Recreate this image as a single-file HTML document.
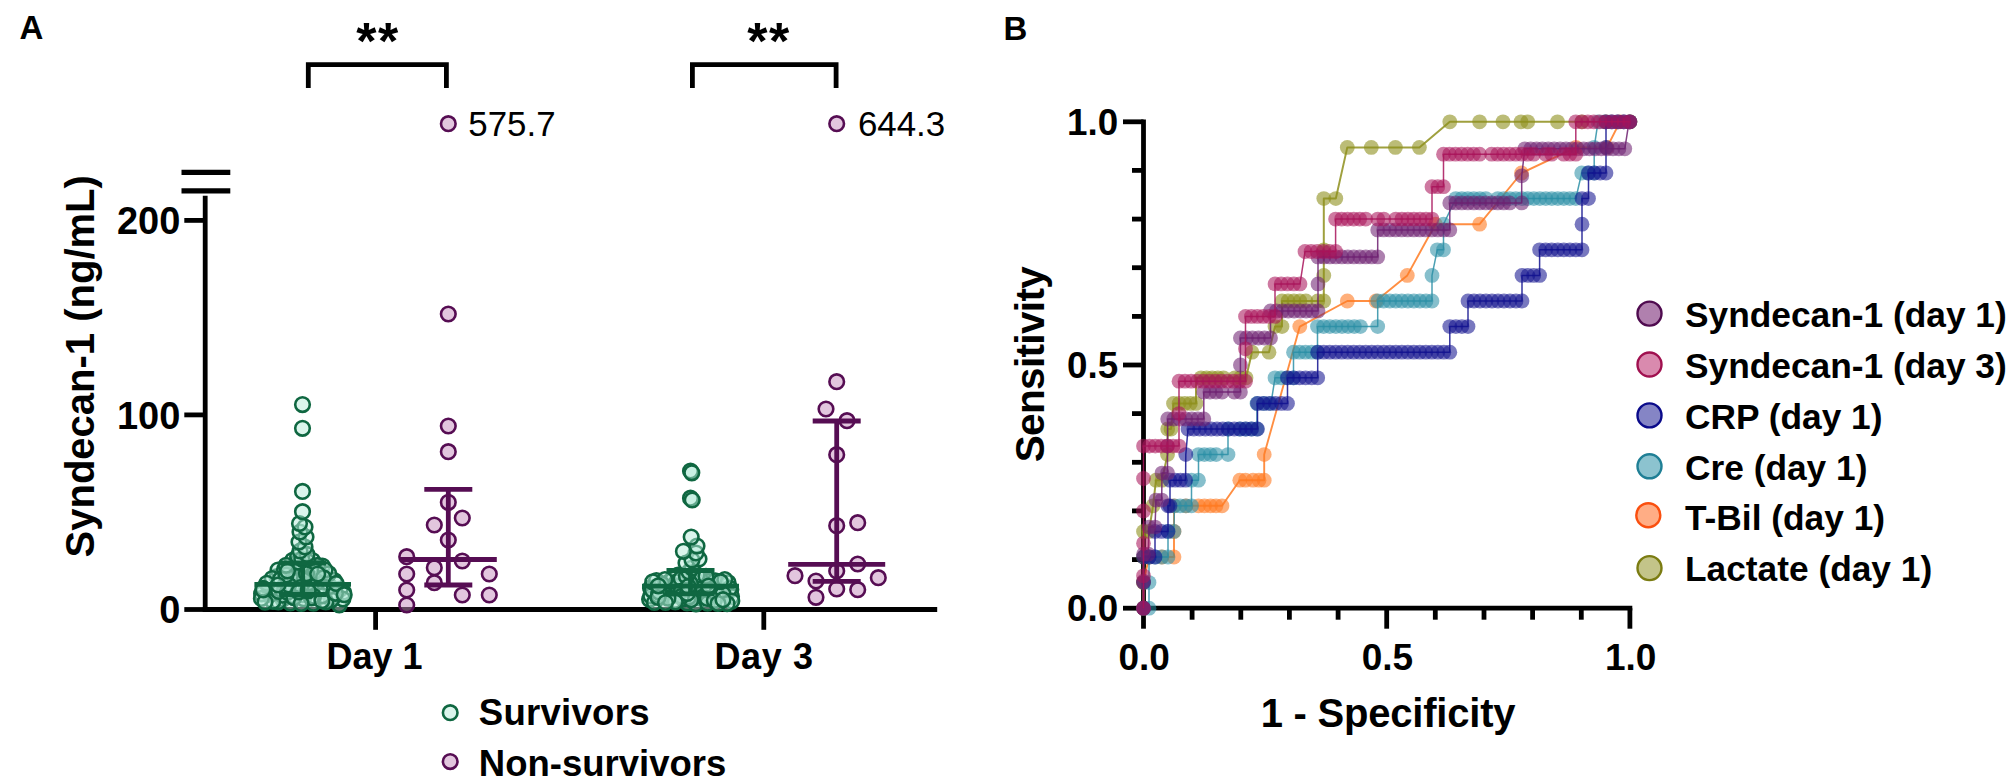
<!DOCTYPE html>
<html lang="en"><head><meta charset="utf-8"><title>Figure: Syndecan-1 and ROC</title>
<style>html,body{margin:0;padding:0;background:#fff;}body{width:2008px;height:780px;overflow:hidden;}svg{display:block;}text{font-family:"Liberation Sans",Arial,Helvetica,sans-serif;}</style></head><body>
<svg width="2008" height="780" viewBox="0 0 2008 780">
<rect width="2008" height="780" fill="#ffffff"/>
<g id="panelA">
<text x="19.5" y="39.0" font-size="33" font-weight="bold" text-anchor="start" fill="#000" >A</text>
<line x1="205.2" y1="195.7" x2="205.2" y2="611.9" stroke="#000000" stroke-width="4.8" />
<line x1="202.8" y1="609.5" x2="937.2" y2="609.5" stroke="#000000" stroke-width="4.8" />
<line x1="181.5" y1="172.3" x2="230.3" y2="172.3" stroke="#000000" stroke-width="5.2" />
<line x1="181.5" y1="190.8" x2="230.3" y2="190.8" stroke="#000000" stroke-width="5.2" />
<line x1="184.3" y1="609.5" x2="205.2" y2="609.5" stroke="#000000" stroke-width="4.8" />
<text x="180.3" y="623.1" font-size="38" font-weight="bold" text-anchor="end" fill="#000" >0</text>
<line x1="184.3" y1="414.9" x2="205.2" y2="414.9" stroke="#000000" stroke-width="4.8" />
<text x="180.3" y="428.6" font-size="38" font-weight="bold" text-anchor="end" fill="#000" >100</text>
<line x1="184.3" y1="220.4" x2="205.2" y2="220.4" stroke="#000000" stroke-width="4.8" />
<text x="180.3" y="234.0" font-size="38" font-weight="bold" text-anchor="end" fill="#000" >200</text>
<line x1="375.6" y1="609.5" x2="375.6" y2="629.8" stroke="#000000" stroke-width="4.8" />
<text x="374.6" y="668.6" font-size="36" font-weight="bold" text-anchor="middle" fill="#000" >Day 1</text>
<line x1="763.8" y1="609.5" x2="763.8" y2="629.8" stroke="#000000" stroke-width="4.8" />
<text x="764.1" y="668.6" font-size="36" font-weight="bold" text-anchor="middle" fill="#000" letter-spacing="0.65">Day 3</text>
<text transform="translate(93.8,366.3) rotate(-90)" font-size="40" font-weight="bold" text-anchor="middle" fill="#000">Syndecan-1 (ng/mL)</text>
<polyline points="308.3,88.1 308.3,64.6 446.4,64.6 446.4,88.1" fill="none" stroke="#000" stroke-width="4.8"/>
<text x="378.0" y="58.8" font-size="52" font-weight="bold" text-anchor="middle" fill="#000" letter-spacing="1.5">**</text>
<polyline points="692.4,88.1 692.4,64.6 836.1,64.6 836.1,88.1" fill="none" stroke="#000" stroke-width="4.8"/>
<text x="769.0" y="58.8" font-size="52" font-weight="bold" text-anchor="middle" fill="#000" letter-spacing="1.5">**</text>
<circle cx="282.7" cy="599.1" r="7.3" fill="#b8ecd9" fill-opacity="0.5" stroke="#0f6741" stroke-width="2.6"/>
<circle cx="322.5" cy="566.1" r="7.3" fill="#b8ecd9" fill-opacity="0.5" stroke="#0f6741" stroke-width="2.6"/>
<circle cx="261.6" cy="593.8" r="7.3" fill="#b8ecd9" fill-opacity="0.5" stroke="#0f6741" stroke-width="2.6"/>
<circle cx="326.1" cy="582.4" r="7.3" fill="#b8ecd9" fill-opacity="0.5" stroke="#0f6741" stroke-width="2.6"/>
<circle cx="343.4" cy="592.2" r="7.3" fill="#b8ecd9" fill-opacity="0.5" stroke="#0f6741" stroke-width="2.6"/>
<circle cx="276.8" cy="576.7" r="7.3" fill="#b8ecd9" fill-opacity="0.5" stroke="#0f6741" stroke-width="2.6"/>
<circle cx="296.9" cy="583.2" r="7.3" fill="#b8ecd9" fill-opacity="0.5" stroke="#0f6741" stroke-width="2.6"/>
<circle cx="339.3" cy="604.8" r="7.3" fill="#b8ecd9" fill-opacity="0.5" stroke="#0f6741" stroke-width="2.6"/>
<circle cx="290.3" cy="603.0" r="7.3" fill="#b8ecd9" fill-opacity="0.5" stroke="#0f6741" stroke-width="2.6"/>
<circle cx="316.8" cy="591.9" r="7.3" fill="#b8ecd9" fill-opacity="0.5" stroke="#0f6741" stroke-width="2.6"/>
<circle cx="278.3" cy="601.8" r="7.3" fill="#b8ecd9" fill-opacity="0.5" stroke="#0f6741" stroke-width="2.6"/>
<circle cx="325.5" cy="591.3" r="7.3" fill="#b8ecd9" fill-opacity="0.5" stroke="#0f6741" stroke-width="2.6"/>
<circle cx="270.4" cy="592.5" r="7.3" fill="#b8ecd9" fill-opacity="0.5" stroke="#0f6741" stroke-width="2.6"/>
<circle cx="307.4" cy="570.1" r="7.3" fill="#b8ecd9" fill-opacity="0.5" stroke="#0f6741" stroke-width="2.6"/>
<circle cx="312.7" cy="580.0" r="7.3" fill="#b8ecd9" fill-opacity="0.5" stroke="#0f6741" stroke-width="2.6"/>
<circle cx="340.2" cy="589.0" r="7.3" fill="#b8ecd9" fill-opacity="0.5" stroke="#0f6741" stroke-width="2.6"/>
<circle cx="312.5" cy="560.6" r="7.3" fill="#b8ecd9" fill-opacity="0.5" stroke="#0f6741" stroke-width="2.6"/>
<circle cx="278.0" cy="570.1" r="7.3" fill="#b8ecd9" fill-opacity="0.5" stroke="#0f6741" stroke-width="2.6"/>
<circle cx="270.4" cy="594.3" r="7.3" fill="#b8ecd9" fill-opacity="0.5" stroke="#0f6741" stroke-width="2.6"/>
<circle cx="296.5" cy="573.0" r="7.3" fill="#b8ecd9" fill-opacity="0.5" stroke="#0f6741" stroke-width="2.6"/>
<circle cx="307.0" cy="585.0" r="7.3" fill="#b8ecd9" fill-opacity="0.5" stroke="#0f6741" stroke-width="2.6"/>
<circle cx="342.9" cy="599.0" r="7.3" fill="#b8ecd9" fill-opacity="0.5" stroke="#0f6741" stroke-width="2.6"/>
<circle cx="333.3" cy="597.0" r="7.3" fill="#b8ecd9" fill-opacity="0.5" stroke="#0f6741" stroke-width="2.6"/>
<circle cx="291.7" cy="595.8" r="7.3" fill="#b8ecd9" fill-opacity="0.5" stroke="#0f6741" stroke-width="2.6"/>
<circle cx="274.4" cy="589.5" r="7.3" fill="#b8ecd9" fill-opacity="0.5" stroke="#0f6741" stroke-width="2.6"/>
<circle cx="302.4" cy="594.7" r="7.3" fill="#b8ecd9" fill-opacity="0.5" stroke="#0f6741" stroke-width="2.6"/>
<circle cx="311.5" cy="566.6" r="7.3" fill="#b8ecd9" fill-opacity="0.5" stroke="#0f6741" stroke-width="2.6"/>
<circle cx="331.5" cy="599.8" r="7.3" fill="#b8ecd9" fill-opacity="0.5" stroke="#0f6741" stroke-width="2.6"/>
<circle cx="282.5" cy="595.2" r="7.3" fill="#b8ecd9" fill-opacity="0.5" stroke="#0f6741" stroke-width="2.6"/>
<circle cx="313.4" cy="603.2" r="7.3" fill="#b8ecd9" fill-opacity="0.5" stroke="#0f6741" stroke-width="2.6"/>
<circle cx="291.9" cy="579.8" r="7.3" fill="#b8ecd9" fill-opacity="0.5" stroke="#0f6741" stroke-width="2.6"/>
<circle cx="272.9" cy="601.3" r="7.3" fill="#b8ecd9" fill-opacity="0.5" stroke="#0f6741" stroke-width="2.6"/>
<circle cx="292.9" cy="567.4" r="7.3" fill="#b8ecd9" fill-opacity="0.5" stroke="#0f6741" stroke-width="2.6"/>
<circle cx="317.6" cy="565.4" r="7.3" fill="#b8ecd9" fill-opacity="0.5" stroke="#0f6741" stroke-width="2.6"/>
<circle cx="292.7" cy="588.2" r="7.3" fill="#b8ecd9" fill-opacity="0.5" stroke="#0f6741" stroke-width="2.6"/>
<circle cx="284.5" cy="586.6" r="7.3" fill="#b8ecd9" fill-opacity="0.5" stroke="#0f6741" stroke-width="2.6"/>
<circle cx="307.6" cy="561.6" r="7.3" fill="#b8ecd9" fill-opacity="0.5" stroke="#0f6741" stroke-width="2.6"/>
<circle cx="292.6" cy="560.3" r="7.3" fill="#b8ecd9" fill-opacity="0.5" stroke="#0f6741" stroke-width="2.6"/>
<circle cx="318.6" cy="582.1" r="7.3" fill="#b8ecd9" fill-opacity="0.5" stroke="#0f6741" stroke-width="2.6"/>
<circle cx="301.3" cy="565.9" r="7.3" fill="#b8ecd9" fill-opacity="0.5" stroke="#0f6741" stroke-width="2.6"/>
<circle cx="311.0" cy="586.0" r="7.3" fill="#b8ecd9" fill-opacity="0.5" stroke="#0f6741" stroke-width="2.6"/>
<circle cx="278.7" cy="591.5" r="7.3" fill="#b8ecd9" fill-opacity="0.5" stroke="#0f6741" stroke-width="2.6"/>
<circle cx="303.6" cy="598.7" r="7.3" fill="#b8ecd9" fill-opacity="0.5" stroke="#0f6741" stroke-width="2.6"/>
<circle cx="303.9" cy="580.3" r="7.3" fill="#b8ecd9" fill-opacity="0.5" stroke="#0f6741" stroke-width="2.6"/>
<circle cx="296.0" cy="576.0" r="7.3" fill="#b8ecd9" fill-opacity="0.5" stroke="#0f6741" stroke-width="2.6"/>
<circle cx="297.6" cy="562.1" r="7.3" fill="#b8ecd9" fill-opacity="0.5" stroke="#0f6741" stroke-width="2.6"/>
<circle cx="284.5" cy="569.5" r="7.3" fill="#b8ecd9" fill-opacity="0.5" stroke="#0f6741" stroke-width="2.6"/>
<circle cx="261.4" cy="598.4" r="7.3" fill="#b8ecd9" fill-opacity="0.5" stroke="#0f6741" stroke-width="2.6"/>
<circle cx="329.9" cy="586.5" r="7.3" fill="#b8ecd9" fill-opacity="0.5" stroke="#0f6741" stroke-width="2.6"/>
<circle cx="325.9" cy="601.9" r="7.3" fill="#b8ecd9" fill-opacity="0.5" stroke="#0f6741" stroke-width="2.6"/>
<circle cx="272.2" cy="578.6" r="7.3" fill="#b8ecd9" fill-opacity="0.5" stroke="#0f6741" stroke-width="2.6"/>
<circle cx="322.2" cy="595.8" r="7.3" fill="#b8ecd9" fill-opacity="0.5" stroke="#0f6741" stroke-width="2.6"/>
<circle cx="320.2" cy="588.6" r="7.3" fill="#b8ecd9" fill-opacity="0.5" stroke="#0f6741" stroke-width="2.6"/>
<circle cx="334.3" cy="580.6" r="7.3" fill="#b8ecd9" fill-opacity="0.5" stroke="#0f6741" stroke-width="2.6"/>
<circle cx="265.0" cy="602.1" r="7.3" fill="#b8ecd9" fill-opacity="0.5" stroke="#0f6741" stroke-width="2.6"/>
<circle cx="280.6" cy="579.2" r="7.3" fill="#b8ecd9" fill-opacity="0.5" stroke="#0f6741" stroke-width="2.6"/>
<circle cx="315.6" cy="570.9" r="7.3" fill="#b8ecd9" fill-opacity="0.5" stroke="#0f6741" stroke-width="2.6"/>
<circle cx="301.1" cy="587.3" r="7.3" fill="#b8ecd9" fill-opacity="0.5" stroke="#0f6741" stroke-width="2.6"/>
<circle cx="306.5" cy="573.8" r="7.3" fill="#b8ecd9" fill-opacity="0.5" stroke="#0f6741" stroke-width="2.6"/>
<circle cx="328.8" cy="573.7" r="7.3" fill="#b8ecd9" fill-opacity="0.5" stroke="#0f6741" stroke-width="2.6"/>
<circle cx="313.6" cy="596.3" r="7.3" fill="#b8ecd9" fill-opacity="0.5" stroke="#0f6741" stroke-width="2.6"/>
<circle cx="311.4" cy="598.0" r="7.3" fill="#b8ecd9" fill-opacity="0.5" stroke="#0f6741" stroke-width="2.6"/>
<circle cx="297.6" cy="556.6" r="7.3" fill="#b8ecd9" fill-opacity="0.5" stroke="#0f6741" stroke-width="2.6"/>
<circle cx="301.8" cy="559.0" r="7.3" fill="#b8ecd9" fill-opacity="0.5" stroke="#0f6741" stroke-width="2.6"/>
<circle cx="321.9" cy="600.8" r="7.3" fill="#b8ecd9" fill-opacity="0.5" stroke="#0f6741" stroke-width="2.6"/>
<circle cx="287.5" cy="592.2" r="7.3" fill="#b8ecd9" fill-opacity="0.5" stroke="#0f6741" stroke-width="2.6"/>
<circle cx="293.9" cy="597.7" r="7.3" fill="#b8ecd9" fill-opacity="0.5" stroke="#0f6741" stroke-width="2.6"/>
<circle cx="288.7" cy="585.0" r="7.3" fill="#b8ecd9" fill-opacity="0.5" stroke="#0f6741" stroke-width="2.6"/>
<circle cx="325.1" cy="570.0" r="7.3" fill="#b8ecd9" fill-opacity="0.5" stroke="#0f6741" stroke-width="2.6"/>
<circle cx="323.4" cy="577.7" r="7.3" fill="#b8ecd9" fill-opacity="0.5" stroke="#0f6741" stroke-width="2.6"/>
<circle cx="266.8" cy="583.3" r="7.3" fill="#b8ecd9" fill-opacity="0.5" stroke="#0f6741" stroke-width="2.6"/>
<circle cx="307.0" cy="554.4" r="7.3" fill="#b8ecd9" fill-opacity="0.5" stroke="#0f6741" stroke-width="2.6"/>
<circle cx="335.4" cy="593.3" r="7.3" fill="#b8ecd9" fill-opacity="0.5" stroke="#0f6741" stroke-width="2.6"/>
<circle cx="286.1" cy="575.1" r="7.3" fill="#b8ecd9" fill-opacity="0.5" stroke="#0f6741" stroke-width="2.6"/>
<circle cx="263.2" cy="588.3" r="7.3" fill="#b8ecd9" fill-opacity="0.5" stroke="#0f6741" stroke-width="2.6"/>
<circle cx="286.1" cy="565.3" r="7.3" fill="#b8ecd9" fill-opacity="0.5" stroke="#0f6741" stroke-width="2.6"/>
<circle cx="301.2" cy="603.5" r="7.3" fill="#b8ecd9" fill-opacity="0.5" stroke="#0f6741" stroke-width="2.6"/>
<circle cx="278.1" cy="585.0" r="7.3" fill="#b8ecd9" fill-opacity="0.5" stroke="#0f6741" stroke-width="2.6"/>
<circle cx="317.7" cy="574.1" r="7.3" fill="#b8ecd9" fill-opacity="0.5" stroke="#0f6741" stroke-width="2.6"/>
<circle cx="287.5" cy="571.0" r="7.3" fill="#b8ecd9" fill-opacity="0.5" stroke="#0f6741" stroke-width="2.6"/>
<circle cx="262.9" cy="590.0" r="7.3" fill="#b8ecd9" fill-opacity="0.5" stroke="#0f6741" stroke-width="2.6"/>
<circle cx="298.7" cy="591.8" r="7.3" fill="#b8ecd9" fill-opacity="0.5" stroke="#0f6741" stroke-width="2.6"/>
<circle cx="336.1" cy="583.4" r="7.3" fill="#b8ecd9" fill-opacity="0.5" stroke="#0f6741" stroke-width="2.6"/>
<circle cx="308.2" cy="590.8" r="7.3" fill="#b8ecd9" fill-opacity="0.5" stroke="#0f6741" stroke-width="2.6"/>
<circle cx="344.2" cy="594.7" r="7.3" fill="#b8ecd9" fill-opacity="0.5" stroke="#0f6741" stroke-width="2.6"/>
<circle cx="300.0" cy="551.0" r="7.3" fill="#b8ecd9" fill-opacity="0.5" stroke="#0f6741" stroke-width="2.6"/>
<circle cx="305.0" cy="547.0" r="7.3" fill="#b8ecd9" fill-opacity="0.5" stroke="#0f6741" stroke-width="2.6"/>
<circle cx="299.0" cy="542.0" r="7.3" fill="#b8ecd9" fill-opacity="0.5" stroke="#0f6741" stroke-width="2.6"/>
<circle cx="306.0" cy="537.0" r="7.3" fill="#b8ecd9" fill-opacity="0.5" stroke="#0f6741" stroke-width="2.6"/>
<circle cx="300.0" cy="532.0" r="7.3" fill="#b8ecd9" fill-opacity="0.5" stroke="#0f6741" stroke-width="2.6"/>
<circle cx="305.0" cy="527.0" r="7.3" fill="#b8ecd9" fill-opacity="0.5" stroke="#0f6741" stroke-width="2.6"/>
<circle cx="299.5" cy="523.5" r="7.3" fill="#b8ecd9" fill-opacity="0.5" stroke="#0f6741" stroke-width="2.6"/>
<circle cx="302.5" cy="404.6" r="7.3" fill="#b8ecd9" fill-opacity="0.5" stroke="#0f6741" stroke-width="2.6"/>
<circle cx="302.5" cy="428.3" r="7.3" fill="#b8ecd9" fill-opacity="0.5" stroke="#0f6741" stroke-width="2.6"/>
<circle cx="302.5" cy="491.4" r="7.3" fill="#b8ecd9" fill-opacity="0.5" stroke="#0f6741" stroke-width="2.6"/>
<circle cx="302.5" cy="511.7" r="7.3" fill="#b8ecd9" fill-opacity="0.5" stroke="#0f6741" stroke-width="2.6"/>
<line x1="302.7" y1="563.0" x2="302.7" y2="594.5" stroke="#0f6741" stroke-width="4.8" />
<line x1="254.4" y1="584.3" x2="351.0" y2="584.3" stroke="#0f6741" stroke-width="4.8" />
<line x1="279.2" y1="563.0" x2="326.2" y2="563.0" stroke="#0f6741" stroke-width="4.8" />
<line x1="279.2" y1="594.5" x2="326.2" y2="594.5" stroke="#0f6741" stroke-width="4.8" />
<circle cx="715.9" cy="592.4" r="7.3" fill="#b8ecd9" fill-opacity="0.5" stroke="#0f6741" stroke-width="2.6"/>
<circle cx="699.9" cy="597.9" r="7.3" fill="#b8ecd9" fill-opacity="0.5" stroke="#0f6741" stroke-width="2.6"/>
<circle cx="701.7" cy="591.6" r="7.3" fill="#b8ecd9" fill-opacity="0.5" stroke="#0f6741" stroke-width="2.6"/>
<circle cx="687.1" cy="602.9" r="7.3" fill="#b8ecd9" fill-opacity="0.5" stroke="#0f6741" stroke-width="2.6"/>
<circle cx="693.5" cy="587.2" r="7.3" fill="#b8ecd9" fill-opacity="0.5" stroke="#0f6741" stroke-width="2.6"/>
<circle cx="667.0" cy="588.7" r="7.3" fill="#b8ecd9" fill-opacity="0.5" stroke="#0f6741" stroke-width="2.6"/>
<circle cx="678.0" cy="575.1" r="7.3" fill="#b8ecd9" fill-opacity="0.5" stroke="#0f6741" stroke-width="2.6"/>
<circle cx="705.1" cy="583.6" r="7.3" fill="#b8ecd9" fill-opacity="0.5" stroke="#0f6741" stroke-width="2.6"/>
<circle cx="669.1" cy="581.8" r="7.3" fill="#b8ecd9" fill-opacity="0.5" stroke="#0f6741" stroke-width="2.6"/>
<circle cx="695.6" cy="590.1" r="7.3" fill="#b8ecd9" fill-opacity="0.5" stroke="#0f6741" stroke-width="2.6"/>
<circle cx="693.9" cy="595.7" r="7.3" fill="#b8ecd9" fill-opacity="0.5" stroke="#0f6741" stroke-width="2.6"/>
<circle cx="674.2" cy="585.9" r="7.3" fill="#b8ecd9" fill-opacity="0.5" stroke="#0f6741" stroke-width="2.6"/>
<circle cx="650.5" cy="588.0" r="7.3" fill="#b8ecd9" fill-opacity="0.5" stroke="#0f6741" stroke-width="2.6"/>
<circle cx="713.0" cy="581.9" r="7.3" fill="#b8ecd9" fill-opacity="0.5" stroke="#0f6741" stroke-width="2.6"/>
<circle cx="674.2" cy="590.4" r="7.3" fill="#b8ecd9" fill-opacity="0.5" stroke="#0f6741" stroke-width="2.6"/>
<circle cx="717.7" cy="587.8" r="7.3" fill="#b8ecd9" fill-opacity="0.5" stroke="#0f6741" stroke-width="2.6"/>
<circle cx="708.1" cy="594.0" r="7.3" fill="#b8ecd9" fill-opacity="0.5" stroke="#0f6741" stroke-width="2.6"/>
<circle cx="724.3" cy="585.9" r="7.3" fill="#b8ecd9" fill-opacity="0.5" stroke="#0f6741" stroke-width="2.6"/>
<circle cx="689.5" cy="580.4" r="7.3" fill="#b8ecd9" fill-opacity="0.5" stroke="#0f6741" stroke-width="2.6"/>
<circle cx="673.0" cy="578.9" r="7.3" fill="#b8ecd9" fill-opacity="0.5" stroke="#0f6741" stroke-width="2.6"/>
<circle cx="722.3" cy="591.7" r="7.3" fill="#b8ecd9" fill-opacity="0.5" stroke="#0f6741" stroke-width="2.6"/>
<circle cx="707.9" cy="581.2" r="7.3" fill="#b8ecd9" fill-opacity="0.5" stroke="#0f6741" stroke-width="2.6"/>
<circle cx="664.5" cy="593.0" r="7.3" fill="#b8ecd9" fill-opacity="0.5" stroke="#0f6741" stroke-width="2.6"/>
<circle cx="684.5" cy="583.3" r="7.3" fill="#b8ecd9" fill-opacity="0.5" stroke="#0f6741" stroke-width="2.6"/>
<circle cx="715.3" cy="580.8" r="7.3" fill="#b8ecd9" fill-opacity="0.5" stroke="#0f6741" stroke-width="2.6"/>
<circle cx="699.9" cy="582.6" r="7.3" fill="#b8ecd9" fill-opacity="0.5" stroke="#0f6741" stroke-width="2.6"/>
<circle cx="703.1" cy="588.8" r="7.3" fill="#b8ecd9" fill-opacity="0.5" stroke="#0f6741" stroke-width="2.6"/>
<circle cx="696.0" cy="603.8" r="7.3" fill="#b8ecd9" fill-opacity="0.5" stroke="#0f6741" stroke-width="2.6"/>
<circle cx="679.4" cy="585.7" r="7.3" fill="#b8ecd9" fill-opacity="0.5" stroke="#0f6741" stroke-width="2.6"/>
<circle cx="703.2" cy="596.9" r="7.3" fill="#b8ecd9" fill-opacity="0.5" stroke="#0f6741" stroke-width="2.6"/>
<circle cx="649.6" cy="599.3" r="7.3" fill="#b8ecd9" fill-opacity="0.5" stroke="#0f6741" stroke-width="2.6"/>
<circle cx="708.7" cy="590.3" r="7.3" fill="#b8ecd9" fill-opacity="0.5" stroke="#0f6741" stroke-width="2.6"/>
<circle cx="730.8" cy="589.6" r="7.3" fill="#b8ecd9" fill-opacity="0.5" stroke="#0f6741" stroke-width="2.6"/>
<circle cx="728.1" cy="582.7" r="7.3" fill="#b8ecd9" fill-opacity="0.5" stroke="#0f6741" stroke-width="2.6"/>
<circle cx="656.4" cy="580.5" r="7.3" fill="#b8ecd9" fill-opacity="0.5" stroke="#0f6741" stroke-width="2.6"/>
<circle cx="683.2" cy="598.8" r="7.3" fill="#b8ecd9" fill-opacity="0.5" stroke="#0f6741" stroke-width="2.6"/>
<circle cx="699.7" cy="578.3" r="7.3" fill="#b8ecd9" fill-opacity="0.5" stroke="#0f6741" stroke-width="2.6"/>
<circle cx="661.9" cy="584.0" r="7.3" fill="#b8ecd9" fill-opacity="0.5" stroke="#0f6741" stroke-width="2.6"/>
<circle cx="731.5" cy="596.6" r="7.3" fill="#b8ecd9" fill-opacity="0.5" stroke="#0f6741" stroke-width="2.6"/>
<circle cx="707.6" cy="603.2" r="7.3" fill="#b8ecd9" fill-opacity="0.5" stroke="#0f6741" stroke-width="2.6"/>
<circle cx="688.5" cy="597.3" r="7.3" fill="#b8ecd9" fill-opacity="0.5" stroke="#0f6741" stroke-width="2.6"/>
<circle cx="697.1" cy="574.9" r="7.3" fill="#b8ecd9" fill-opacity="0.5" stroke="#0f6741" stroke-width="2.6"/>
<circle cx="729.7" cy="588.3" r="7.3" fill="#b8ecd9" fill-opacity="0.5" stroke="#0f6741" stroke-width="2.6"/>
<circle cx="676.9" cy="581.8" r="7.3" fill="#b8ecd9" fill-opacity="0.5" stroke="#0f6741" stroke-width="2.6"/>
<circle cx="672.9" cy="595.4" r="7.3" fill="#b8ecd9" fill-opacity="0.5" stroke="#0f6741" stroke-width="2.6"/>
<circle cx="691.1" cy="599.7" r="7.3" fill="#b8ecd9" fill-opacity="0.5" stroke="#0f6741" stroke-width="2.6"/>
<circle cx="650.8" cy="596.0" r="7.3" fill="#b8ecd9" fill-opacity="0.5" stroke="#0f6741" stroke-width="2.6"/>
<circle cx="690.5" cy="583.7" r="7.3" fill="#b8ecd9" fill-opacity="0.5" stroke="#0f6741" stroke-width="2.6"/>
<circle cx="707.2" cy="598.5" r="7.3" fill="#b8ecd9" fill-opacity="0.5" stroke="#0f6741" stroke-width="2.6"/>
<circle cx="681.1" cy="578.5" r="7.3" fill="#b8ecd9" fill-opacity="0.5" stroke="#0f6741" stroke-width="2.6"/>
<circle cx="681.4" cy="591.1" r="7.3" fill="#b8ecd9" fill-opacity="0.5" stroke="#0f6741" stroke-width="2.6"/>
<circle cx="666.1" cy="595.3" r="7.3" fill="#b8ecd9" fill-opacity="0.5" stroke="#0f6741" stroke-width="2.6"/>
<circle cx="681.4" cy="596.3" r="7.3" fill="#b8ecd9" fill-opacity="0.5" stroke="#0f6741" stroke-width="2.6"/>
<circle cx="724.8" cy="579.5" r="7.3" fill="#b8ecd9" fill-opacity="0.5" stroke="#0f6741" stroke-width="2.6"/>
<circle cx="654.4" cy="602.5" r="7.3" fill="#b8ecd9" fill-opacity="0.5" stroke="#0f6741" stroke-width="2.6"/>
<circle cx="716.3" cy="593.8" r="7.3" fill="#b8ecd9" fill-opacity="0.5" stroke="#0f6741" stroke-width="2.6"/>
<circle cx="706.0" cy="576.3" r="7.3" fill="#b8ecd9" fill-opacity="0.5" stroke="#0f6741" stroke-width="2.6"/>
<circle cx="664.9" cy="579.5" r="7.3" fill="#b8ecd9" fill-opacity="0.5" stroke="#0f6741" stroke-width="2.6"/>
<circle cx="674.9" cy="600.4" r="7.3" fill="#b8ecd9" fill-opacity="0.5" stroke="#0f6741" stroke-width="2.6"/>
<circle cx="722.9" cy="593.8" r="7.3" fill="#b8ecd9" fill-opacity="0.5" stroke="#0f6741" stroke-width="2.6"/>
<circle cx="675.3" cy="602.0" r="7.3" fill="#b8ecd9" fill-opacity="0.5" stroke="#0f6741" stroke-width="2.6"/>
<circle cx="731.8" cy="601.1" r="7.3" fill="#b8ecd9" fill-opacity="0.5" stroke="#0f6741" stroke-width="2.6"/>
<circle cx="686.4" cy="576.3" r="7.3" fill="#b8ecd9" fill-opacity="0.5" stroke="#0f6741" stroke-width="2.6"/>
<circle cx="652.2" cy="590.1" r="7.3" fill="#b8ecd9" fill-opacity="0.5" stroke="#0f6741" stroke-width="2.6"/>
<circle cx="687.3" cy="593.5" r="7.3" fill="#b8ecd9" fill-opacity="0.5" stroke="#0f6741" stroke-width="2.6"/>
<circle cx="720.4" cy="581.7" r="7.3" fill="#b8ecd9" fill-opacity="0.5" stroke="#0f6741" stroke-width="2.6"/>
<circle cx="688.2" cy="586.6" r="7.3" fill="#b8ecd9" fill-opacity="0.5" stroke="#0f6741" stroke-width="2.6"/>
<circle cx="667.9" cy="598.2" r="7.3" fill="#b8ecd9" fill-opacity="0.5" stroke="#0f6741" stroke-width="2.6"/>
<circle cx="727.1" cy="603.6" r="7.3" fill="#b8ecd9" fill-opacity="0.5" stroke="#0f6741" stroke-width="2.6"/>
<circle cx="658.3" cy="595.5" r="7.3" fill="#b8ecd9" fill-opacity="0.5" stroke="#0f6741" stroke-width="2.6"/>
<circle cx="652.8" cy="581.8" r="7.3" fill="#b8ecd9" fill-opacity="0.5" stroke="#0f6741" stroke-width="2.6"/>
<circle cx="658.9" cy="592.1" r="7.3" fill="#b8ecd9" fill-opacity="0.5" stroke="#0f6741" stroke-width="2.6"/>
<circle cx="658.0" cy="597.5" r="7.3" fill="#b8ecd9" fill-opacity="0.5" stroke="#0f6741" stroke-width="2.6"/>
<circle cx="665.5" cy="602.5" r="7.3" fill="#b8ecd9" fill-opacity="0.5" stroke="#0f6741" stroke-width="2.6"/>
<circle cx="714.3" cy="600.6" r="7.3" fill="#b8ecd9" fill-opacity="0.5" stroke="#0f6741" stroke-width="2.6"/>
<circle cx="718.0" cy="603.5" r="7.3" fill="#b8ecd9" fill-opacity="0.5" stroke="#0f6741" stroke-width="2.6"/>
<circle cx="658.3" cy="585.8" r="7.3" fill="#b8ecd9" fill-opacity="0.5" stroke="#0f6741" stroke-width="2.6"/>
<circle cx="708.5" cy="586.1" r="7.3" fill="#b8ecd9" fill-opacity="0.5" stroke="#0f6741" stroke-width="2.6"/>
<circle cx="723.0" cy="599.7" r="7.3" fill="#b8ecd9" fill-opacity="0.5" stroke="#0f6741" stroke-width="2.6"/>
<circle cx="689.0" cy="572.0" r="7.3" fill="#b8ecd9" fill-opacity="0.5" stroke="#0f6741" stroke-width="2.6"/>
<circle cx="692.0" cy="568.0" r="7.3" fill="#b8ecd9" fill-opacity="0.5" stroke="#0f6741" stroke-width="2.6"/>
<circle cx="686.0" cy="563.0" r="7.3" fill="#b8ecd9" fill-opacity="0.5" stroke="#0f6741" stroke-width="2.6"/>
<circle cx="699.0" cy="559.0" r="7.3" fill="#b8ecd9" fill-opacity="0.5" stroke="#0f6741" stroke-width="2.6"/>
<circle cx="692.0" cy="560.0" r="7.3" fill="#b8ecd9" fill-opacity="0.5" stroke="#0f6741" stroke-width="2.6"/>
<circle cx="696.0" cy="553.0" r="7.3" fill="#b8ecd9" fill-opacity="0.5" stroke="#0f6741" stroke-width="2.6"/>
<circle cx="683.4" cy="551.3" r="7.3" fill="#b8ecd9" fill-opacity="0.5" stroke="#0f6741" stroke-width="2.6"/>
<circle cx="697.0" cy="546.0" r="7.3" fill="#b8ecd9" fill-opacity="0.5" stroke="#0f6741" stroke-width="2.6"/>
<circle cx="691.2" cy="537.1" r="7.3" fill="#b8ecd9" fill-opacity="0.5" stroke="#0f6741" stroke-width="2.6"/>
<circle cx="690.5" cy="471.0" r="7.3" fill="#b8ecd9" fill-opacity="0.5" stroke="#0f6741" stroke-width="2.6"/>
<circle cx="691.8" cy="472.8" r="7.3" fill="#b8ecd9" fill-opacity="0.5" stroke="#0f6741" stroke-width="2.6"/>
<circle cx="690.5" cy="498.2" r="7.3" fill="#b8ecd9" fill-opacity="0.5" stroke="#0f6741" stroke-width="2.6"/>
<circle cx="692.2" cy="500.0" r="7.3" fill="#b8ecd9" fill-opacity="0.5" stroke="#0f6741" stroke-width="2.6"/>
<line x1="690.5" y1="570.5" x2="690.5" y2="593.8" stroke="#0f6741" stroke-width="4.8" />
<line x1="642.0" y1="586.2" x2="739.0" y2="586.2" stroke="#0f6741" stroke-width="4.8" />
<line x1="666.5" y1="570.5" x2="714.5" y2="570.5" stroke="#0f6741" stroke-width="4.8" />
<line x1="666.5" y1="593.8" x2="714.5" y2="593.8" stroke="#0f6741" stroke-width="4.8" />
<circle cx="448.3" cy="123.7" r="7.3" fill="#c58dbd" fill-opacity="0.5" stroke="#560d53" stroke-width="2.6"/>
<circle cx="448.3" cy="314.0" r="7.3" fill="#c58dbd" fill-opacity="0.5" stroke="#560d53" stroke-width="2.6"/>
<circle cx="448.3" cy="426.0" r="7.3" fill="#c58dbd" fill-opacity="0.5" stroke="#560d53" stroke-width="2.6"/>
<circle cx="448.3" cy="451.7" r="7.3" fill="#c58dbd" fill-opacity="0.5" stroke="#560d53" stroke-width="2.6"/>
<circle cx="448.3" cy="502.3" r="7.3" fill="#c58dbd" fill-opacity="0.5" stroke="#560d53" stroke-width="2.6"/>
<circle cx="462.3" cy="518.0" r="7.3" fill="#c58dbd" fill-opacity="0.5" stroke="#560d53" stroke-width="2.6"/>
<circle cx="434.3" cy="525.0" r="7.3" fill="#c58dbd" fill-opacity="0.5" stroke="#560d53" stroke-width="2.6"/>
<circle cx="448.3" cy="540.0" r="7.3" fill="#c58dbd" fill-opacity="0.5" stroke="#560d53" stroke-width="2.6"/>
<circle cx="406.7" cy="556.7" r="7.3" fill="#c58dbd" fill-opacity="0.5" stroke="#560d53" stroke-width="2.6"/>
<circle cx="462.3" cy="561.0" r="7.3" fill="#c58dbd" fill-opacity="0.5" stroke="#560d53" stroke-width="2.6"/>
<circle cx="434.3" cy="567.7" r="7.3" fill="#c58dbd" fill-opacity="0.5" stroke="#560d53" stroke-width="2.6"/>
<circle cx="406.7" cy="574.0" r="7.3" fill="#c58dbd" fill-opacity="0.5" stroke="#560d53" stroke-width="2.6"/>
<circle cx="489.3" cy="574.0" r="7.3" fill="#c58dbd" fill-opacity="0.5" stroke="#560d53" stroke-width="2.6"/>
<circle cx="434.3" cy="582.7" r="7.3" fill="#c58dbd" fill-opacity="0.5" stroke="#560d53" stroke-width="2.6"/>
<circle cx="406.7" cy="590.0" r="7.3" fill="#c58dbd" fill-opacity="0.5" stroke="#560d53" stroke-width="2.6"/>
<circle cx="462.3" cy="595.0" r="7.3" fill="#c58dbd" fill-opacity="0.5" stroke="#560d53" stroke-width="2.6"/>
<circle cx="489.3" cy="595.0" r="7.3" fill="#c58dbd" fill-opacity="0.5" stroke="#560d53" stroke-width="2.6"/>
<circle cx="406.7" cy="605.0" r="7.3" fill="#c58dbd" fill-opacity="0.5" stroke="#560d53" stroke-width="2.6"/>
<line x1="448.3" y1="489.3" x2="448.3" y2="585.0" stroke="#560d53" stroke-width="4.8" />
<line x1="399.8" y1="559.5" x2="496.8" y2="559.5" stroke="#560d53" stroke-width="4.8" />
<line x1="424.3" y1="489.3" x2="472.3" y2="489.3" stroke="#560d53" stroke-width="4.8" />
<line x1="424.3" y1="585.0" x2="472.3" y2="585.0" stroke="#560d53" stroke-width="4.8" />
<circle cx="836.7" cy="123.7" r="7.3" fill="#c58dbd" fill-opacity="0.5" stroke="#560d53" stroke-width="2.6"/>
<circle cx="836.7" cy="381.7" r="7.3" fill="#c58dbd" fill-opacity="0.5" stroke="#560d53" stroke-width="2.6"/>
<circle cx="826.0" cy="409.0" r="7.3" fill="#c58dbd" fill-opacity="0.5" stroke="#560d53" stroke-width="2.6"/>
<circle cx="847.0" cy="420.7" r="7.3" fill="#c58dbd" fill-opacity="0.5" stroke="#560d53" stroke-width="2.6"/>
<circle cx="836.7" cy="454.7" r="7.3" fill="#c58dbd" fill-opacity="0.5" stroke="#560d53" stroke-width="2.6"/>
<circle cx="836.7" cy="525.7" r="7.3" fill="#c58dbd" fill-opacity="0.5" stroke="#560d53" stroke-width="2.6"/>
<circle cx="857.7" cy="522.7" r="7.3" fill="#c58dbd" fill-opacity="0.5" stroke="#560d53" stroke-width="2.6"/>
<circle cx="857.7" cy="564.0" r="7.3" fill="#c58dbd" fill-opacity="0.5" stroke="#560d53" stroke-width="2.6"/>
<circle cx="836.7" cy="571.0" r="7.3" fill="#c58dbd" fill-opacity="0.5" stroke="#560d53" stroke-width="2.6"/>
<circle cx="795.0" cy="575.7" r="7.3" fill="#c58dbd" fill-opacity="0.5" stroke="#560d53" stroke-width="2.6"/>
<circle cx="878.3" cy="577.7" r="7.3" fill="#c58dbd" fill-opacity="0.5" stroke="#560d53" stroke-width="2.6"/>
<circle cx="816.0" cy="581.0" r="7.3" fill="#c58dbd" fill-opacity="0.5" stroke="#560d53" stroke-width="2.6"/>
<circle cx="836.7" cy="589.0" r="7.3" fill="#c58dbd" fill-opacity="0.5" stroke="#560d53" stroke-width="2.6"/>
<circle cx="857.7" cy="589.7" r="7.3" fill="#c58dbd" fill-opacity="0.5" stroke="#560d53" stroke-width="2.6"/>
<circle cx="816.0" cy="597.3" r="7.3" fill="#c58dbd" fill-opacity="0.5" stroke="#560d53" stroke-width="2.6"/>
<line x1="836.7" y1="421.0" x2="836.7" y2="581.3" stroke="#560d53" stroke-width="4.8" />
<line x1="788.2" y1="564.3" x2="885.2" y2="564.3" stroke="#560d53" stroke-width="4.8" />
<line x1="812.7" y1="421.0" x2="860.7" y2="421.0" stroke="#560d53" stroke-width="4.8" />
<line x1="812.7" y1="581.3" x2="860.7" y2="581.3" stroke="#560d53" stroke-width="4.8" />
<text x="468.3" y="136.3" font-size="34.9" font-weight="normal" text-anchor="start" fill="#000" >575.7</text>
<text x="857.9" y="136.3" font-size="34.9" font-weight="normal" text-anchor="start" fill="#000" >644.3</text>
<circle cx="450.2" cy="712.7" r="7.3" fill="#b8ecd9" fill-opacity="0.5" stroke="#0f6741" stroke-width="2.6"/>
<circle cx="450.2" cy="761.6" r="7.3" fill="#c58dbd" fill-opacity="0.5" stroke="#560d53" stroke-width="2.6"/>
<text x="478.8" y="724.6" font-size="36.6" font-weight="bold" text-anchor="start" fill="#000" letter-spacing="0.25">Survivors</text>
<text x="478.8" y="775.6" font-size="36.5" font-weight="bold" text-anchor="start" fill="#000" >Non-survivors</text>
</g>
<g id="panelB">
<text x="1003.5" y="39.5" font-size="33" font-weight="bold" text-anchor="start" fill="#000" >B</text>
<line x1="1143.5" y1="119.4" x2="1143.5" y2="610.6" stroke="#000000" stroke-width="4.8" />
<line x1="1141.1" y1="608.2" x2="1632.3" y2="608.2" stroke="#000000" stroke-width="4.8" />
<line x1="1123.0" y1="608.2" x2="1143.5" y2="608.2" stroke="#000000" stroke-width="4.8" />
<line x1="1143.5" y1="608.2" x2="1143.5" y2="628.7" stroke="#000000" stroke-width="4.8" />
<line x1="1132.0" y1="559.6" x2="1143.5" y2="559.6" stroke="#000000" stroke-width="4.8" />
<line x1="1192.1" y1="608.2" x2="1192.1" y2="619.7" stroke="#000000" stroke-width="4.8" />
<line x1="1132.0" y1="510.9" x2="1143.5" y2="510.9" stroke="#000000" stroke-width="4.8" />
<line x1="1240.8" y1="608.2" x2="1240.8" y2="619.7" stroke="#000000" stroke-width="4.8" />
<line x1="1132.0" y1="462.3" x2="1143.5" y2="462.3" stroke="#000000" stroke-width="4.8" />
<line x1="1289.4" y1="608.2" x2="1289.4" y2="619.7" stroke="#000000" stroke-width="4.8" />
<line x1="1132.0" y1="413.6" x2="1143.5" y2="413.6" stroke="#000000" stroke-width="4.8" />
<line x1="1338.1" y1="608.2" x2="1338.1" y2="619.7" stroke="#000000" stroke-width="4.8" />
<line x1="1123.0" y1="365.0" x2="1143.5" y2="365.0" stroke="#000000" stroke-width="4.8" />
<line x1="1386.7" y1="608.2" x2="1386.7" y2="628.7" stroke="#000000" stroke-width="4.8" />
<line x1="1132.0" y1="316.4" x2="1143.5" y2="316.4" stroke="#000000" stroke-width="4.8" />
<line x1="1435.3" y1="608.2" x2="1435.3" y2="619.7" stroke="#000000" stroke-width="4.8" />
<line x1="1132.0" y1="267.7" x2="1143.5" y2="267.7" stroke="#000000" stroke-width="4.8" />
<line x1="1484.0" y1="608.2" x2="1484.0" y2="619.7" stroke="#000000" stroke-width="4.8" />
<line x1="1132.0" y1="219.1" x2="1143.5" y2="219.1" stroke="#000000" stroke-width="4.8" />
<line x1="1532.6" y1="608.2" x2="1532.6" y2="619.7" stroke="#000000" stroke-width="4.8" />
<line x1="1132.0" y1="170.4" x2="1143.5" y2="170.4" stroke="#000000" stroke-width="4.8" />
<line x1="1581.3" y1="608.2" x2="1581.3" y2="619.7" stroke="#000000" stroke-width="4.8" />
<line x1="1123.0" y1="121.8" x2="1143.5" y2="121.8" stroke="#000000" stroke-width="4.8" />
<line x1="1629.9" y1="608.2" x2="1629.9" y2="628.7" stroke="#000000" stroke-width="4.8" />
<text x="1118.2" y="621.3" font-size="36.8" font-weight="bold" text-anchor="end" fill="#000" >0.0</text>
<text x="1144.2" y="670.0" font-size="37" font-weight="bold" text-anchor="middle" fill="#000" >0.0</text>
<text x="1118.2" y="378.1" font-size="36.8" font-weight="bold" text-anchor="end" fill="#000" >0.5</text>
<text x="1387.4" y="670.0" font-size="37" font-weight="bold" text-anchor="middle" fill="#000" >0.5</text>
<text x="1118.2" y="134.9" font-size="36.8" font-weight="bold" text-anchor="end" fill="#000" >1.0</text>
<text x="1630.6" y="670.0" font-size="37" font-weight="bold" text-anchor="middle" fill="#000" >1.0</text>
<text transform="translate(1043.6,364.6) rotate(-90)" font-size="40.5" letter-spacing="-0.65" font-weight="bold" text-anchor="middle" fill="#000">Sensitivity</text>
<text x="1388.0" y="727.0" font-size="40" font-weight="bold" text-anchor="middle" fill="#000" letter-spacing="-0.22">1 - Specificity</text>
<polyline fill="none" stroke="#8e8f1c" stroke-opacity="0.85" stroke-width="2.0" stroke-linejoin="round" points="1143.5,608.2 1143.5,531.4 1149.0,531.4 1153.0,505.8 1156.0,480.2 1162.0,480.2 1167.5,454.6 1167.7,429.0 1171.0,429.0 1173.5,403.4 1196.0,403.4 1196.0,377.8 1246.0,377.8 1252.0,352.2 1269.0,352.2 1275.0,326.6 1282.0,326.6 1282.0,301.0 1323.8,301.0 1323.8,198.6 1335.8,198.6 1347.3,147.4 1419.4,147.4 1449.8,121.8 1629.9,121.8"/>
<g fill="#8e8f1c" fill-opacity="0.6">
<circle cx="1143.5" cy="608.2" r="7.4"/>
<circle cx="1143.5" cy="582.6" r="7.4"/>
<circle cx="1143.5" cy="557.0" r="7.4"/>
<circle cx="1143.5" cy="531.4" r="7.4"/>
<circle cx="1149.0" cy="531.4" r="7.4"/>
<circle cx="1153.0" cy="505.8" r="7.4"/>
<circle cx="1156.0" cy="480.2" r="7.4"/>
<circle cx="1162.0" cy="480.2" r="7.4"/>
<circle cx="1167.5" cy="454.6" r="7.4"/>
<circle cx="1167.7" cy="429.0" r="7.4"/>
<circle cx="1171.0" cy="429.0" r="7.4"/>
<circle cx="1173.5" cy="403.4" r="7.4"/>
<circle cx="1179.1" cy="403.4" r="7.4"/>
<circle cx="1184.8" cy="403.4" r="7.4"/>
<circle cx="1190.4" cy="403.4" r="7.4"/>
<circle cx="1196.0" cy="403.4" r="7.4"/>
<circle cx="1201.0" cy="377.8" r="7.4"/>
<circle cx="1206.6" cy="377.8" r="7.4"/>
<circle cx="1212.2" cy="377.8" r="7.4"/>
<circle cx="1217.9" cy="377.8" r="7.4"/>
<circle cx="1223.5" cy="377.8" r="7.4"/>
<circle cx="1234.8" cy="377.8" r="7.4"/>
<circle cx="1240.4" cy="377.8" r="7.4"/>
<circle cx="1246.0" cy="377.8" r="7.4"/>
<circle cx="1252.0" cy="352.2" r="7.4"/>
<circle cx="1269.0" cy="352.2" r="7.4"/>
<circle cx="1275.0" cy="326.6" r="7.4"/>
<circle cx="1282.0" cy="326.6" r="7.4"/>
<circle cx="1282.0" cy="301.0" r="7.4"/>
<circle cx="1288.0" cy="301.0" r="7.4"/>
<circle cx="1293.9" cy="301.0" r="7.4"/>
<circle cx="1299.9" cy="301.0" r="7.4"/>
<circle cx="1305.9" cy="301.0" r="7.4"/>
<circle cx="1317.8" cy="301.0" r="7.4"/>
<circle cx="1323.8" cy="301.0" r="7.4"/>
<circle cx="1323.8" cy="275.4" r="7.4"/>
<circle cx="1323.8" cy="249.8" r="7.4"/>
<circle cx="1323.8" cy="198.6" r="7.4"/>
<circle cx="1335.8" cy="198.6" r="7.4"/>
<circle cx="1347.3" cy="147.4" r="7.4"/>
<circle cx="1371.3" cy="147.4" r="7.4"/>
<circle cx="1395.4" cy="147.4" r="7.4"/>
<circle cx="1419.4" cy="147.4" r="7.4"/>
<circle cx="1449.8" cy="121.8" r="7.4"/>
<circle cx="1479.6" cy="121.8" r="7.4"/>
<circle cx="1503.0" cy="121.8" r="7.4"/>
<circle cx="1521.0" cy="121.8" r="7.4"/>
<circle cx="1527.7" cy="121.8" r="7.4"/>
<circle cx="1557.5" cy="121.8" r="7.4"/>
<circle cx="1582.0" cy="121.8" r="7.4"/>
<circle cx="1606.0" cy="121.8" r="7.4"/>
<circle cx="1629.9" cy="121.8" r="7.4"/>
</g>
<polyline fill="none" stroke="#ff7a21" stroke-opacity="0.85" stroke-width="1.9" stroke-linejoin="round" points="1143.5,608.2 1143.5,582.6 1149.0,557.0 1174.0,557.0 1174.0,505.8 1222.0,505.8 1239.8,480.2 1264.2,480.2 1264.2,454.6 1299.8,326.6 1347.3,301.0 1376.0,301.0 1407.3,275.4 1435.4,224.2 1479.6,224.2 1521.5,173.0 1576.0,147.4 1607.0,147.4 1620.0,121.8 1629.9,121.8"/>
<g fill="#ff7a21" fill-opacity="0.6">
<circle cx="1143.5" cy="608.2" r="7.4"/>
<circle cx="1143.5" cy="582.6" r="7.4"/>
<circle cx="1149.0" cy="557.0" r="7.4"/>
<circle cx="1162.0" cy="557.0" r="7.4"/>
<circle cx="1174.0" cy="557.0" r="7.4"/>
<circle cx="1174.0" cy="531.4" r="7.4"/>
<circle cx="1174.0" cy="505.8" r="7.4"/>
<circle cx="1186.0" cy="505.8" r="7.4"/>
<circle cx="1198.5" cy="505.8" r="7.4"/>
<circle cx="1204.5" cy="505.8" r="7.4"/>
<circle cx="1210.5" cy="505.8" r="7.4"/>
<circle cx="1216.0" cy="505.8" r="7.4"/>
<circle cx="1222.0" cy="505.8" r="7.4"/>
<circle cx="1239.8" cy="480.2" r="7.4"/>
<circle cx="1245.5" cy="480.2" r="7.4"/>
<circle cx="1253.0" cy="480.2" r="7.4"/>
<circle cx="1259.0" cy="480.2" r="7.4"/>
<circle cx="1264.2" cy="480.2" r="7.4"/>
<circle cx="1264.2" cy="454.6" r="7.4"/>
<circle cx="1299.8" cy="326.6" r="7.4"/>
<circle cx="1347.3" cy="301.0" r="7.4"/>
<circle cx="1376.0" cy="301.0" r="7.4"/>
<circle cx="1407.3" cy="275.4" r="7.4"/>
<circle cx="1435.4" cy="224.2" r="7.4"/>
<circle cx="1479.6" cy="224.2" r="7.4"/>
<circle cx="1521.5" cy="173.0" r="7.4"/>
<circle cx="1576.0" cy="147.4" r="7.4"/>
<circle cx="1607.0" cy="147.4" r="7.4"/>
<circle cx="1620.0" cy="121.8" r="7.4"/>
<circle cx="1629.9" cy="121.8" r="7.4"/>
</g>
<polyline fill="none" stroke="#2b8fa6" stroke-opacity="0.85" stroke-width="1.5" stroke-linejoin="round" points="1143.5,608.2 1149.0,608.2 1149.0,557.0 1168.0,557.0 1168.0,531.4 1174.0,531.4 1174.4,505.8 1191.5,505.8 1191.5,480.2 1198.5,480.2 1198.5,454.6 1228.0,454.6 1228.0,429.0 1257.0,429.0 1257.0,403.4 1271.0,403.4 1275.0,377.8 1293.5,377.8 1293.5,352.2 1317.5,352.2 1317.5,326.6 1377.7,326.6 1377.7,301.0 1432.0,301.0 1432.0,275.4 1437.3,249.8 1443.5,249.8 1443.5,224.2 1455.8,198.6 1575.8,198.6 1581.7,173.0 1594.2,173.0 1594.2,147.4 1598.0,121.8 1629.9,121.8"/>
<g fill="#2b8fa6" fill-opacity="0.57">
<circle cx="1143.5" cy="608.2" r="7.4"/>
<circle cx="1149.0" cy="608.2" r="7.4"/>
<circle cx="1149.0" cy="582.6" r="7.4"/>
<circle cx="1377.7" cy="326.6" r="7.4"/>
<circle cx="1432.0" cy="275.4" r="7.4"/>
<circle cx="1443.5" cy="224.2" r="7.4"/>
<circle cx="1594.2" cy="147.4" r="7.4"/>
<circle cx="1149.0" cy="557.0" r="7.4"/>
<circle cx="1155.3" cy="557.0" r="7.4"/>
<circle cx="1161.7" cy="557.0" r="7.4"/>
<circle cx="1168.0" cy="557.0" r="7.4"/>
<circle cx="1168.0" cy="531.4" r="7.4"/>
<circle cx="1174.0" cy="531.4" r="7.4"/>
<circle cx="1174.4" cy="505.8" r="7.4"/>
<circle cx="1180.1" cy="505.8" r="7.4"/>
<circle cx="1185.8" cy="505.8" r="7.4"/>
<circle cx="1191.5" cy="505.8" r="7.4"/>
<circle cx="1191.5" cy="480.2" r="7.4"/>
<circle cx="1198.5" cy="480.2" r="7.4"/>
<circle cx="1198.5" cy="454.6" r="7.4"/>
<circle cx="1204.4" cy="454.6" r="7.4"/>
<circle cx="1210.3" cy="454.6" r="7.4"/>
<circle cx="1216.2" cy="454.6" r="7.4"/>
<circle cx="1228.0" cy="454.6" r="7.4"/>
<circle cx="1228.0" cy="429.0" r="7.4"/>
<circle cx="1239.6" cy="429.0" r="7.4"/>
<circle cx="1245.4" cy="429.0" r="7.4"/>
<circle cx="1251.2" cy="429.0" r="7.4"/>
<circle cx="1257.0" cy="429.0" r="7.4"/>
<circle cx="1257.0" cy="403.4" r="7.4"/>
<circle cx="1264.0" cy="403.4" r="7.4"/>
<circle cx="1271.0" cy="403.4" r="7.4"/>
<circle cx="1275.0" cy="377.8" r="7.4"/>
<circle cx="1281.2" cy="377.8" r="7.4"/>
<circle cx="1287.3" cy="377.8" r="7.4"/>
<circle cx="1293.5" cy="377.8" r="7.4"/>
<circle cx="1293.5" cy="352.2" r="7.4"/>
<circle cx="1299.5" cy="352.2" r="7.4"/>
<circle cx="1305.5" cy="352.2" r="7.4"/>
<circle cx="1311.5" cy="352.2" r="7.4"/>
<circle cx="1317.5" cy="352.2" r="7.4"/>
<circle cx="1317.5" cy="326.6" r="7.4"/>
<circle cx="1323.6" cy="326.6" r="7.4"/>
<circle cx="1329.8" cy="326.6" r="7.4"/>
<circle cx="1335.9" cy="326.6" r="7.4"/>
<circle cx="1342.0" cy="326.6" r="7.4"/>
<circle cx="1348.1" cy="326.6" r="7.4"/>
<circle cx="1354.3" cy="326.6" r="7.4"/>
<circle cx="1360.4" cy="326.6" r="7.4"/>
<circle cx="1377.7" cy="301.0" r="7.4"/>
<circle cx="1383.7" cy="301.0" r="7.4"/>
<circle cx="1389.8" cy="301.0" r="7.4"/>
<circle cx="1395.8" cy="301.0" r="7.4"/>
<circle cx="1401.8" cy="301.0" r="7.4"/>
<circle cx="1407.9" cy="301.0" r="7.4"/>
<circle cx="1413.9" cy="301.0" r="7.4"/>
<circle cx="1419.9" cy="301.0" r="7.4"/>
<circle cx="1426.0" cy="301.0" r="7.4"/>
<circle cx="1432.0" cy="301.0" r="7.4"/>
<circle cx="1437.3" cy="249.8" r="7.4"/>
<circle cx="1443.5" cy="249.8" r="7.4"/>
<circle cx="1455.8" cy="198.6" r="7.4"/>
<circle cx="1461.8" cy="198.6" r="7.4"/>
<circle cx="1467.8" cy="198.6" r="7.4"/>
<circle cx="1473.8" cy="198.6" r="7.4"/>
<circle cx="1479.8" cy="198.6" r="7.4"/>
<circle cx="1485.8" cy="198.6" r="7.4"/>
<circle cx="1497.8" cy="198.6" r="7.4"/>
<circle cx="1503.8" cy="198.6" r="7.4"/>
<circle cx="1509.8" cy="198.6" r="7.4"/>
<circle cx="1515.8" cy="198.6" r="7.4"/>
<circle cx="1521.8" cy="198.6" r="7.4"/>
<circle cx="1527.8" cy="198.6" r="7.4"/>
<circle cx="1533.8" cy="198.6" r="7.4"/>
<circle cx="1539.8" cy="198.6" r="7.4"/>
<circle cx="1545.8" cy="198.6" r="7.4"/>
<circle cx="1551.8" cy="198.6" r="7.4"/>
<circle cx="1557.8" cy="198.6" r="7.4"/>
<circle cx="1563.8" cy="198.6" r="7.4"/>
<circle cx="1569.8" cy="198.6" r="7.4"/>
<circle cx="1575.8" cy="198.6" r="7.4"/>
<circle cx="1581.7" cy="173.0" r="7.4"/>
<circle cx="1588.0" cy="173.0" r="7.4"/>
<circle cx="1594.2" cy="173.0" r="7.4"/>
<circle cx="1598.0" cy="121.8" r="7.4"/>
<circle cx="1604.4" cy="121.8" r="7.4"/>
<circle cx="1610.8" cy="121.8" r="7.4"/>
<circle cx="1617.1" cy="121.8" r="7.4"/>
<circle cx="1623.5" cy="121.8" r="7.4"/>
<circle cx="1629.9" cy="121.8" r="7.4"/>
</g>
<polyline fill="none" stroke="#12128f" stroke-opacity="0.85" stroke-width="1.5" stroke-linejoin="round" points="1143.5,608.2 1143.5,557.0 1143.5,557.0 1155.0,557.0 1155.0,531.4 1168.0,531.4 1168.0,505.8 1170.0,505.8 1170.0,480.2 1185.6,480.2 1185.8,454.6 1185.8,454.6 1188.0,429.0 1257.5,429.0 1257.5,403.4 1287.5,403.4 1287.5,377.8 1317.7,377.8 1317.7,352.2 1449.8,352.2 1449.8,326.6 1468.0,326.6 1468.0,301.0 1522.0,301.0 1522.0,275.4 1539.6,275.4 1539.6,249.8 1582.0,249.8 1582.0,224.2 1582.0,224.2 1582.0,198.6 1588.5,198.6 1588.5,173.0 1606.0,173.0 1606.0,147.4 1606.0,147.4 1606.0,121.8 1629.9,121.8"/>
<g fill="#12128f" fill-opacity="0.57">
<circle cx="1143.5" cy="608.2" r="7.4"/>
<circle cx="1143.5" cy="582.6" r="7.4"/>
<circle cx="1143.5" cy="557.0" r="7.4"/>
<circle cx="1149.2" cy="557.0" r="7.4"/>
<circle cx="1155.0" cy="557.0" r="7.4"/>
<circle cx="1155.0" cy="531.4" r="7.4"/>
<circle cx="1161.5" cy="531.4" r="7.4"/>
<circle cx="1168.0" cy="531.4" r="7.4"/>
<circle cx="1168.0" cy="505.8" r="7.4"/>
<circle cx="1170.0" cy="505.8" r="7.4"/>
<circle cx="1170.0" cy="480.2" r="7.4"/>
<circle cx="1175.2" cy="480.2" r="7.4"/>
<circle cx="1180.4" cy="480.2" r="7.4"/>
<circle cx="1185.6" cy="480.2" r="7.4"/>
<circle cx="1185.8" cy="454.6" r="7.4"/>
<circle cx="1188.0" cy="429.0" r="7.4"/>
<circle cx="1193.8" cy="429.0" r="7.4"/>
<circle cx="1199.6" cy="429.0" r="7.4"/>
<circle cx="1205.4" cy="429.0" r="7.4"/>
<circle cx="1211.2" cy="429.0" r="7.4"/>
<circle cx="1217.0" cy="429.0" r="7.4"/>
<circle cx="1222.8" cy="429.0" r="7.4"/>
<circle cx="1228.5" cy="429.0" r="7.4"/>
<circle cx="1234.3" cy="429.0" r="7.4"/>
<circle cx="1240.1" cy="429.0" r="7.4"/>
<circle cx="1245.9" cy="429.0" r="7.4"/>
<circle cx="1251.7" cy="429.0" r="7.4"/>
<circle cx="1257.5" cy="429.0" r="7.4"/>
<circle cx="1257.5" cy="403.4" r="7.4"/>
<circle cx="1263.5" cy="403.4" r="7.4"/>
<circle cx="1269.5" cy="403.4" r="7.4"/>
<circle cx="1275.5" cy="403.4" r="7.4"/>
<circle cx="1281.5" cy="403.4" r="7.4"/>
<circle cx="1287.5" cy="403.4" r="7.4"/>
<circle cx="1287.5" cy="377.8" r="7.4"/>
<circle cx="1293.5" cy="377.8" r="7.4"/>
<circle cx="1299.6" cy="377.8" r="7.4"/>
<circle cx="1305.6" cy="377.8" r="7.4"/>
<circle cx="1311.7" cy="377.8" r="7.4"/>
<circle cx="1317.7" cy="377.8" r="7.4"/>
<circle cx="1317.7" cy="352.2" r="7.4"/>
<circle cx="1323.7" cy="352.2" r="7.4"/>
<circle cx="1329.7" cy="352.2" r="7.4"/>
<circle cx="1335.7" cy="352.2" r="7.4"/>
<circle cx="1341.7" cy="352.2" r="7.4"/>
<circle cx="1347.7" cy="352.2" r="7.4"/>
<circle cx="1353.7" cy="352.2" r="7.4"/>
<circle cx="1359.7" cy="352.2" r="7.4"/>
<circle cx="1365.7" cy="352.2" r="7.4"/>
<circle cx="1371.7" cy="352.2" r="7.4"/>
<circle cx="1377.7" cy="352.2" r="7.4"/>
<circle cx="1383.8" cy="352.2" r="7.4"/>
<circle cx="1389.8" cy="352.2" r="7.4"/>
<circle cx="1395.8" cy="352.2" r="7.4"/>
<circle cx="1401.8" cy="352.2" r="7.4"/>
<circle cx="1407.8" cy="352.2" r="7.4"/>
<circle cx="1413.8" cy="352.2" r="7.4"/>
<circle cx="1419.8" cy="352.2" r="7.4"/>
<circle cx="1425.8" cy="352.2" r="7.4"/>
<circle cx="1431.8" cy="352.2" r="7.4"/>
<circle cx="1437.8" cy="352.2" r="7.4"/>
<circle cx="1443.8" cy="352.2" r="7.4"/>
<circle cx="1449.8" cy="352.2" r="7.4"/>
<circle cx="1449.8" cy="326.6" r="7.4"/>
<circle cx="1455.9" cy="326.6" r="7.4"/>
<circle cx="1461.9" cy="326.6" r="7.4"/>
<circle cx="1468.0" cy="326.6" r="7.4"/>
<circle cx="1468.0" cy="301.0" r="7.4"/>
<circle cx="1474.0" cy="301.0" r="7.4"/>
<circle cx="1480.0" cy="301.0" r="7.4"/>
<circle cx="1486.0" cy="301.0" r="7.4"/>
<circle cx="1492.0" cy="301.0" r="7.4"/>
<circle cx="1498.0" cy="301.0" r="7.4"/>
<circle cx="1504.0" cy="301.0" r="7.4"/>
<circle cx="1510.0" cy="301.0" r="7.4"/>
<circle cx="1516.0" cy="301.0" r="7.4"/>
<circle cx="1522.0" cy="301.0" r="7.4"/>
<circle cx="1522.0" cy="275.4" r="7.4"/>
<circle cx="1527.9" cy="275.4" r="7.4"/>
<circle cx="1533.7" cy="275.4" r="7.4"/>
<circle cx="1539.6" cy="275.4" r="7.4"/>
<circle cx="1539.6" cy="249.8" r="7.4"/>
<circle cx="1545.7" cy="249.8" r="7.4"/>
<circle cx="1551.7" cy="249.8" r="7.4"/>
<circle cx="1557.8" cy="249.8" r="7.4"/>
<circle cx="1563.8" cy="249.8" r="7.4"/>
<circle cx="1569.9" cy="249.8" r="7.4"/>
<circle cx="1575.9" cy="249.8" r="7.4"/>
<circle cx="1582.0" cy="249.8" r="7.4"/>
<circle cx="1582.0" cy="224.2" r="7.4"/>
<circle cx="1582.0" cy="198.6" r="7.4"/>
<circle cx="1588.5" cy="198.6" r="7.4"/>
<circle cx="1588.5" cy="173.0" r="7.4"/>
<circle cx="1594.3" cy="173.0" r="7.4"/>
<circle cx="1600.2" cy="173.0" r="7.4"/>
<circle cx="1606.0" cy="173.0" r="7.4"/>
<circle cx="1606.0" cy="147.4" r="7.4"/>
<circle cx="1606.0" cy="121.8" r="7.4"/>
<circle cx="1612.0" cy="121.8" r="7.4"/>
<circle cx="1618.0" cy="121.8" r="7.4"/>
<circle cx="1623.9" cy="121.8" r="7.4"/>
<circle cx="1629.9" cy="121.8" r="7.4"/>
</g>
<polyline fill="none" stroke="#6d1f70" stroke-opacity="0.85" stroke-width="1.5" stroke-linejoin="round" points="1143.5,608.2 1143.5,581.2 1143.5,581.2 1143.5,554.2 1148.3,554.2 1149.0,527.1 1155.0,527.1 1156.0,500.1 1161.7,500.1 1162.0,473.1 1167.5,473.1 1167.5,446.1 1167.5,446.1 1167.7,419.0 1203.8,419.0 1203.8,392.0 1240.4,392.0 1240.4,365.0 1240.4,365.0 1240.4,338.0 1270.5,338.0 1270.5,311.0 1318.0,311.0 1318.0,283.9 1318.0,283.9 1318.0,256.9 1377.7,256.9 1377.7,229.9 1449.8,229.9 1449.8,202.9 1521.7,202.9 1521.7,175.8 1521.7,175.8 1524.8,148.8 1624.8,148.8 1629.0,121.8 1629.9,121.8"/>
<g fill="#6d1f70" fill-opacity="0.57">
<circle cx="1143.5" cy="608.2" r="7.4"/>
<circle cx="1143.5" cy="581.2" r="7.4"/>
<circle cx="1143.5" cy="554.2" r="7.4"/>
<circle cx="1148.3" cy="554.2" r="7.4"/>
<circle cx="1149.0" cy="527.1" r="7.4"/>
<circle cx="1155.0" cy="527.1" r="7.4"/>
<circle cx="1156.0" cy="500.1" r="7.4"/>
<circle cx="1161.7" cy="500.1" r="7.4"/>
<circle cx="1162.0" cy="473.1" r="7.4"/>
<circle cx="1167.5" cy="473.1" r="7.4"/>
<circle cx="1167.5" cy="446.1" r="7.4"/>
<circle cx="1167.7" cy="419.0" r="7.4"/>
<circle cx="1173.7" cy="419.0" r="7.4"/>
<circle cx="1179.7" cy="419.0" r="7.4"/>
<circle cx="1185.8" cy="419.0" r="7.4"/>
<circle cx="1191.8" cy="419.0" r="7.4"/>
<circle cx="1197.8" cy="419.0" r="7.4"/>
<circle cx="1203.8" cy="419.0" r="7.4"/>
<circle cx="1203.8" cy="392.0" r="7.4"/>
<circle cx="1209.9" cy="392.0" r="7.4"/>
<circle cx="1216.0" cy="392.0" r="7.4"/>
<circle cx="1222.1" cy="392.0" r="7.4"/>
<circle cx="1234.3" cy="392.0" r="7.4"/>
<circle cx="1240.4" cy="392.0" r="7.4"/>
<circle cx="1240.4" cy="365.0" r="7.4"/>
<circle cx="1240.4" cy="338.0" r="7.4"/>
<circle cx="1246.4" cy="338.0" r="7.4"/>
<circle cx="1252.4" cy="338.0" r="7.4"/>
<circle cx="1258.5" cy="338.0" r="7.4"/>
<circle cx="1264.5" cy="338.0" r="7.4"/>
<circle cx="1270.5" cy="338.0" r="7.4"/>
<circle cx="1270.5" cy="311.0" r="7.4"/>
<circle cx="1276.4" cy="311.0" r="7.4"/>
<circle cx="1282.4" cy="311.0" r="7.4"/>
<circle cx="1288.3" cy="311.0" r="7.4"/>
<circle cx="1294.2" cy="311.0" r="7.4"/>
<circle cx="1300.2" cy="311.0" r="7.4"/>
<circle cx="1306.1" cy="311.0" r="7.4"/>
<circle cx="1312.1" cy="311.0" r="7.4"/>
<circle cx="1318.0" cy="311.0" r="7.4"/>
<circle cx="1318.0" cy="283.9" r="7.4"/>
<circle cx="1318.0" cy="256.9" r="7.4"/>
<circle cx="1324.0" cy="256.9" r="7.4"/>
<circle cx="1329.9" cy="256.9" r="7.4"/>
<circle cx="1335.9" cy="256.9" r="7.4"/>
<circle cx="1341.9" cy="256.9" r="7.4"/>
<circle cx="1347.8" cy="256.9" r="7.4"/>
<circle cx="1353.8" cy="256.9" r="7.4"/>
<circle cx="1359.8" cy="256.9" r="7.4"/>
<circle cx="1365.8" cy="256.9" r="7.4"/>
<circle cx="1371.7" cy="256.9" r="7.4"/>
<circle cx="1377.7" cy="256.9" r="7.4"/>
<circle cx="1377.7" cy="229.9" r="7.4"/>
<circle cx="1383.7" cy="229.9" r="7.4"/>
<circle cx="1389.7" cy="229.9" r="7.4"/>
<circle cx="1395.7" cy="229.9" r="7.4"/>
<circle cx="1401.7" cy="229.9" r="7.4"/>
<circle cx="1407.7" cy="229.9" r="7.4"/>
<circle cx="1413.8" cy="229.9" r="7.4"/>
<circle cx="1419.8" cy="229.9" r="7.4"/>
<circle cx="1425.8" cy="229.9" r="7.4"/>
<circle cx="1431.8" cy="229.9" r="7.4"/>
<circle cx="1437.8" cy="229.9" r="7.4"/>
<circle cx="1443.8" cy="229.9" r="7.4"/>
<circle cx="1449.8" cy="229.9" r="7.4"/>
<circle cx="1449.8" cy="202.9" r="7.4"/>
<circle cx="1455.8" cy="202.9" r="7.4"/>
<circle cx="1461.8" cy="202.9" r="7.4"/>
<circle cx="1467.8" cy="202.9" r="7.4"/>
<circle cx="1473.8" cy="202.9" r="7.4"/>
<circle cx="1479.8" cy="202.9" r="7.4"/>
<circle cx="1485.8" cy="202.9" r="7.4"/>
<circle cx="1491.7" cy="202.9" r="7.4"/>
<circle cx="1497.7" cy="202.9" r="7.4"/>
<circle cx="1503.7" cy="202.9" r="7.4"/>
<circle cx="1509.7" cy="202.9" r="7.4"/>
<circle cx="1521.7" cy="202.9" r="7.4"/>
<circle cx="1521.7" cy="175.8" r="7.4"/>
<circle cx="1524.8" cy="148.8" r="7.4"/>
<circle cx="1530.7" cy="148.8" r="7.4"/>
<circle cx="1536.6" cy="148.8" r="7.4"/>
<circle cx="1542.4" cy="148.8" r="7.4"/>
<circle cx="1548.3" cy="148.8" r="7.4"/>
<circle cx="1554.2" cy="148.8" r="7.4"/>
<circle cx="1560.1" cy="148.8" r="7.4"/>
<circle cx="1566.0" cy="148.8" r="7.4"/>
<circle cx="1571.9" cy="148.8" r="7.4"/>
<circle cx="1577.7" cy="148.8" r="7.4"/>
<circle cx="1583.6" cy="148.8" r="7.4"/>
<circle cx="1589.5" cy="148.8" r="7.4"/>
<circle cx="1595.4" cy="148.8" r="7.4"/>
<circle cx="1601.3" cy="148.8" r="7.4"/>
<circle cx="1607.2" cy="148.8" r="7.4"/>
<circle cx="1613.0" cy="148.8" r="7.4"/>
<circle cx="1618.9" cy="148.8" r="7.4"/>
<circle cx="1624.8" cy="148.8" r="7.4"/>
<circle cx="1629.0" cy="121.8" r="7.4"/>
</g>
<polyline fill="none" stroke="#a8135a" stroke-opacity="0.85" stroke-width="1.5" stroke-linejoin="round" points="1143.5,608.2 1143.5,446.1 1179.0,446.1 1179.0,413.6 1179.0,413.6 1179.0,381.2 1245.5,381.2 1245.5,348.8 1245.5,348.8 1245.5,316.4 1275.0,316.4 1275.0,283.9 1300.0,283.9 1305.0,251.5 1335.6,251.5 1335.6,219.1 1432.0,219.1 1432.0,186.7 1443.5,186.7 1443.5,154.2 1575.8,154.2 1575.8,121.8 1629.9,121.8"/>
<g fill="#a8135a" fill-opacity="0.57">
<circle cx="1143.5" cy="608.2" r="7.4"/>
<circle cx="1143.5" cy="575.8" r="7.4"/>
<circle cx="1143.5" cy="543.3" r="7.4"/>
<circle cx="1143.5" cy="510.9" r="7.4"/>
<circle cx="1143.5" cy="478.5" r="7.4"/>
<circle cx="1143.5" cy="446.1" r="7.4"/>
<circle cx="1149.4" cy="446.1" r="7.4"/>
<circle cx="1155.3" cy="446.1" r="7.4"/>
<circle cx="1161.2" cy="446.1" r="7.4"/>
<circle cx="1167.2" cy="446.1" r="7.4"/>
<circle cx="1173.1" cy="446.1" r="7.4"/>
<circle cx="1179.0" cy="446.1" r="7.4"/>
<circle cx="1179.0" cy="413.6" r="7.4"/>
<circle cx="1179.0" cy="381.2" r="7.4"/>
<circle cx="1185.0" cy="381.2" r="7.4"/>
<circle cx="1191.1" cy="381.2" r="7.4"/>
<circle cx="1197.1" cy="381.2" r="7.4"/>
<circle cx="1203.2" cy="381.2" r="7.4"/>
<circle cx="1209.2" cy="381.2" r="7.4"/>
<circle cx="1215.3" cy="381.2" r="7.4"/>
<circle cx="1221.3" cy="381.2" r="7.4"/>
<circle cx="1227.4" cy="381.2" r="7.4"/>
<circle cx="1233.4" cy="381.2" r="7.4"/>
<circle cx="1239.5" cy="381.2" r="7.4"/>
<circle cx="1245.5" cy="381.2" r="7.4"/>
<circle cx="1245.5" cy="348.8" r="7.4"/>
<circle cx="1245.5" cy="316.4" r="7.4"/>
<circle cx="1251.4" cy="316.4" r="7.4"/>
<circle cx="1257.3" cy="316.4" r="7.4"/>
<circle cx="1263.2" cy="316.4" r="7.4"/>
<circle cx="1269.1" cy="316.4" r="7.4"/>
<circle cx="1275.0" cy="316.4" r="7.4"/>
<circle cx="1275.0" cy="283.9" r="7.4"/>
<circle cx="1281.2" cy="283.9" r="7.4"/>
<circle cx="1287.5" cy="283.9" r="7.4"/>
<circle cx="1293.8" cy="283.9" r="7.4"/>
<circle cx="1300.0" cy="283.9" r="7.4"/>
<circle cx="1305.0" cy="251.5" r="7.4"/>
<circle cx="1311.1" cy="251.5" r="7.4"/>
<circle cx="1317.2" cy="251.5" r="7.4"/>
<circle cx="1323.4" cy="251.5" r="7.4"/>
<circle cx="1329.5" cy="251.5" r="7.4"/>
<circle cx="1335.6" cy="251.5" r="7.4"/>
<circle cx="1335.6" cy="219.1" r="7.4"/>
<circle cx="1341.6" cy="219.1" r="7.4"/>
<circle cx="1347.6" cy="219.1" r="7.4"/>
<circle cx="1353.7" cy="219.1" r="7.4"/>
<circle cx="1359.7" cy="219.1" r="7.4"/>
<circle cx="1365.7" cy="219.1" r="7.4"/>
<circle cx="1377.8" cy="219.1" r="7.4"/>
<circle cx="1383.8" cy="219.1" r="7.4"/>
<circle cx="1395.8" cy="219.1" r="7.4"/>
<circle cx="1401.9" cy="219.1" r="7.4"/>
<circle cx="1407.9" cy="219.1" r="7.4"/>
<circle cx="1413.9" cy="219.1" r="7.4"/>
<circle cx="1420.0" cy="219.1" r="7.4"/>
<circle cx="1426.0" cy="219.1" r="7.4"/>
<circle cx="1432.0" cy="219.1" r="7.4"/>
<circle cx="1432.0" cy="186.7" r="7.4"/>
<circle cx="1437.8" cy="186.7" r="7.4"/>
<circle cx="1443.5" cy="186.7" r="7.4"/>
<circle cx="1443.5" cy="154.2" r="7.4"/>
<circle cx="1449.5" cy="154.2" r="7.4"/>
<circle cx="1455.5" cy="154.2" r="7.4"/>
<circle cx="1461.5" cy="154.2" r="7.4"/>
<circle cx="1467.6" cy="154.2" r="7.4"/>
<circle cx="1473.6" cy="154.2" r="7.4"/>
<circle cx="1479.6" cy="154.2" r="7.4"/>
<circle cx="1491.6" cy="154.2" r="7.4"/>
<circle cx="1497.6" cy="154.2" r="7.4"/>
<circle cx="1503.6" cy="154.2" r="7.4"/>
<circle cx="1509.7" cy="154.2" r="7.4"/>
<circle cx="1515.7" cy="154.2" r="7.4"/>
<circle cx="1521.7" cy="154.2" r="7.4"/>
<circle cx="1527.7" cy="154.2" r="7.4"/>
<circle cx="1533.7" cy="154.2" r="7.4"/>
<circle cx="1545.7" cy="154.2" r="7.4"/>
<circle cx="1551.7" cy="154.2" r="7.4"/>
<circle cx="1563.8" cy="154.2" r="7.4"/>
<circle cx="1569.8" cy="154.2" r="7.4"/>
<circle cx="1575.8" cy="154.2" r="7.4"/>
<circle cx="1575.8" cy="121.8" r="7.4"/>
<circle cx="1581.8" cy="121.8" r="7.4"/>
<circle cx="1587.8" cy="121.8" r="7.4"/>
<circle cx="1593.8" cy="121.8" r="7.4"/>
<circle cx="1599.8" cy="121.8" r="7.4"/>
<circle cx="1605.9" cy="121.8" r="7.4"/>
<circle cx="1611.9" cy="121.8" r="7.4"/>
<circle cx="1617.9" cy="121.8" r="7.4"/>
<circle cx="1623.9" cy="121.8" r="7.4"/>
<circle cx="1629.9" cy="121.8" r="7.4"/>
</g>
<circle cx="1649.5" cy="313.6" r="12" fill="#b080ae" stroke="#4f0b4f" stroke-width="2.4"/>
<text x="1685.0" y="326.8" font-size="35.3" font-weight="bold" text-anchor="start" fill="#000" >Syndecan-1 (day 1)</text>
<circle cx="1649.5" cy="364.5" r="12" fill="#d98aae" stroke="#a0104f" stroke-width="2.4"/>
<text x="1685.0" y="377.7" font-size="35.3" font-weight="bold" text-anchor="start" fill="#000" >Syndecan-1 (day 3)</text>
<circle cx="1649.5" cy="415.4" r="12" fill="#8585c5" stroke="#0a0a8a" stroke-width="2.4"/>
<text x="1685.0" y="428.6" font-size="35.3" font-weight="bold" text-anchor="start" fill="#000" >CRP (day 1)</text>
<circle cx="1649.5" cy="466.3" r="12" fill="#8cc3cf" stroke="#1f7f95" stroke-width="2.4"/>
<text x="1685.0" y="479.5" font-size="35.3" font-weight="bold" text-anchor="start" fill="#000" >Cre (day 1)</text>
<circle cx="1648.3" cy="515.2" r="12" fill="#ffad85" stroke="#fa4f0f" stroke-width="2.4"/>
<text x="1685.0" y="530.4" font-size="35.3" font-weight="bold" text-anchor="start" fill="#000" >T-Bil (day 1)</text>
<circle cx="1649.5" cy="568.1" r="12" fill="#c3c489" stroke="#7b7c12" stroke-width="2.4"/>
<text x="1685.0" y="581.3" font-size="35.3" font-weight="bold" text-anchor="start" fill="#000" >Lactate (day 1)</text>
</g>
</svg></body></html>
